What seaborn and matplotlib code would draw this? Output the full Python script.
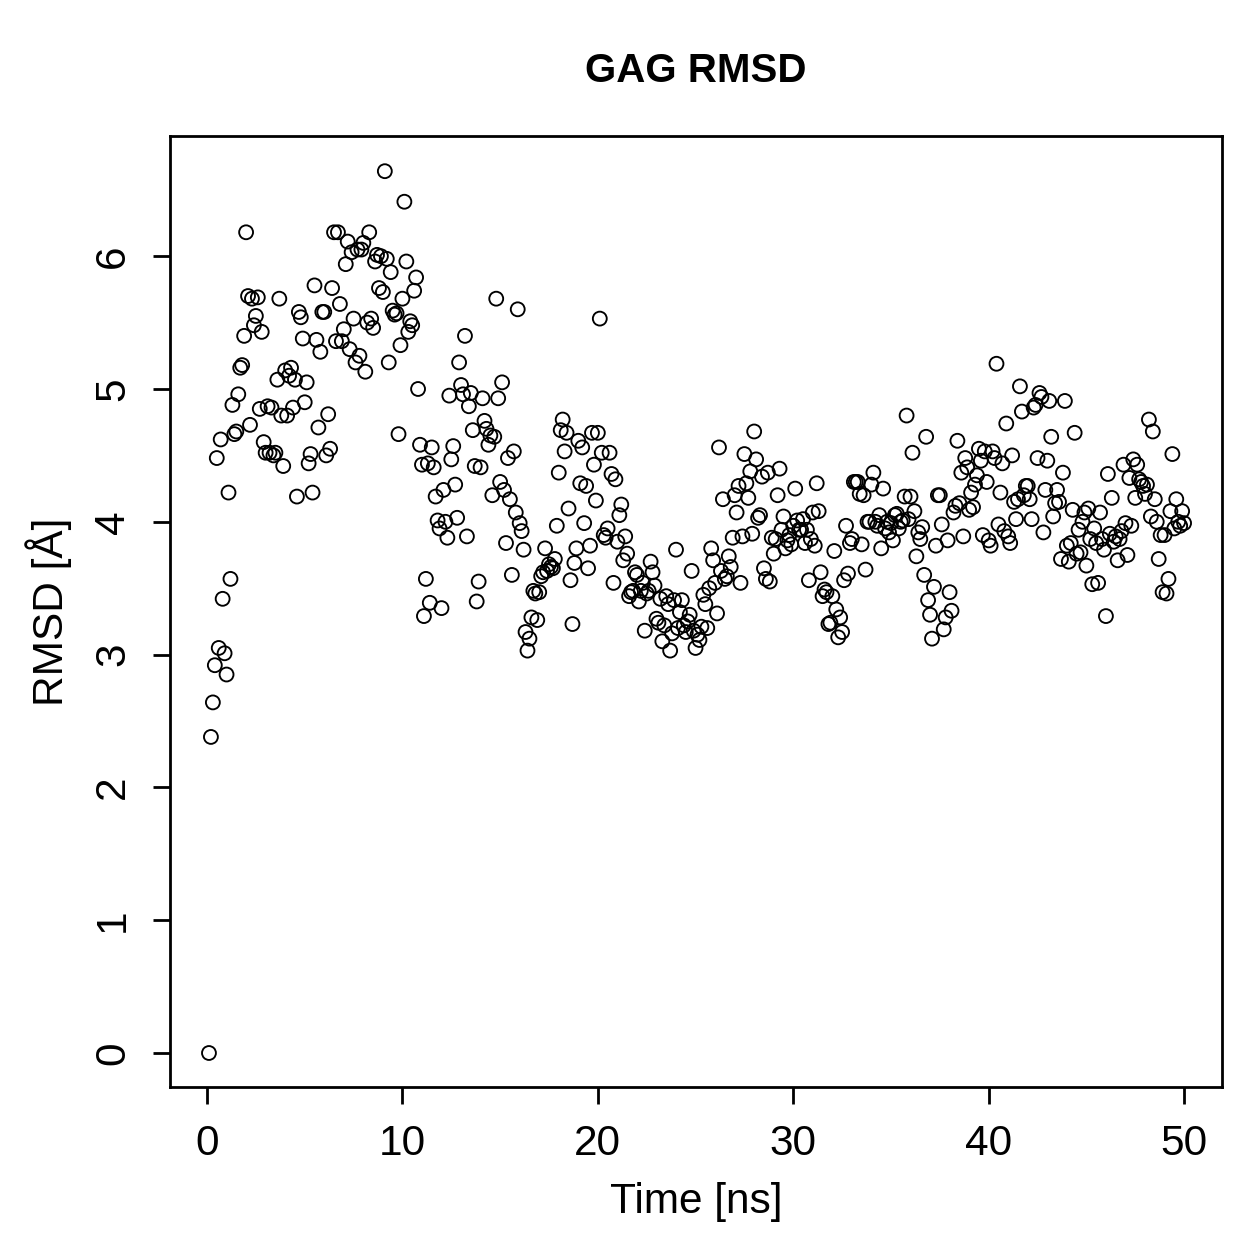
import numpy as np
import pandas as pd
import matplotlib
matplotlib.use("Agg")
import matplotlib.pyplot as plt
import seaborn as sns

title = "GAG RMSD"
x_label = "Time [ns]"
y_label = "RMSD [Å]"
x_ticks = [0, 10, 20, 30, 40, 50]
y_ticks = [0, 1, 2, 3, 4, 5, 6]
time_step = 0.1

rmsd = [
    0.00, 2.38, 2.64, 2.92, 4.48, 3.05, 4.62, 3.42, 3.01, 2.85,
    4.22, 3.57, 4.88, 4.66, 4.68, 4.96, 5.16, 5.18, 5.40, 6.18,
    5.70, 4.73, 5.68, 5.48, 5.55, 5.69, 4.85, 5.43, 4.60, 4.52,
    4.87, 4.52, 4.86, 4.50, 4.52, 5.07, 5.68, 4.80, 4.42, 5.14,
    4.80, 5.10, 5.16, 4.86, 5.07, 4.19, 5.58, 5.54, 5.38, 4.90,
    5.05, 4.44, 4.51, 4.22, 5.78, 5.37, 4.71, 5.28, 5.58, 5.58,
    4.50, 4.81, 4.55, 5.76, 6.18, 5.36, 6.18, 5.64, 5.36, 5.45,
    5.94, 6.11, 5.30, 6.03, 5.53, 5.20, 6.05, 5.25, 6.05, 6.10,
    5.13, 5.50, 6.18, 5.53, 5.46, 5.96, 6.01, 5.76, 6.00, 5.73,
    6.64, 5.98, 5.20, 5.88, 5.59, 5.56, 5.57, 4.66, 5.33, 5.68,
    6.41, 5.96, 5.43, 5.51, 5.48, 5.74, 5.84, 5.00, 4.58, 4.43,
    3.29, 3.57, 4.44, 3.39, 4.56, 4.41, 4.19, 4.01, 3.95, 3.35,
    4.24, 4.00, 3.88, 4.95, 4.47, 4.57, 4.28, 4.03, 5.20, 5.03,
    4.96, 5.40, 3.89, 4.87, 4.97, 4.69, 4.42, 3.40, 3.55, 4.41,
    4.93, 4.76, 4.70, 4.58, 4.65, 4.20, 4.64, 5.68, 4.93, 4.30,
    5.05, 4.24, 3.84, 4.48, 4.17, 3.60, 4.53, 4.07, 5.60, 3.99,
    3.93, 3.79, 3.17, 3.03, 3.12, 3.28, 3.48, 3.46, 3.26, 3.47,
    3.59, 3.62, 3.80, 3.63, 3.68, 3.66, 3.65, 3.72, 3.97, 4.37,
    4.69, 4.77, 4.53, 4.67, 4.10, 3.56, 3.23, 3.69, 3.80, 4.61,
    4.29, 4.56, 3.99, 4.27, 3.65, 3.82, 4.67, 4.43, 4.16, 4.67,
    5.53, 4.52, 3.90, 3.88, 3.95, 4.52, 4.36, 3.54, 4.32, 3.85,
    4.05, 4.13, 3.71, 3.89, 3.76, 3.44, 3.47, 3.48, 3.62, 3.60,
    3.40, 3.48, 3.54, 3.18, 3.46, 3.48, 3.70, 3.62, 3.52, 3.27,
    3.24, 3.42, 3.10, 3.22, 3.44, 3.38, 3.03, 3.16, 3.41, 3.79,
    3.20, 3.32, 3.41, 3.22, 3.17, 3.25, 3.30, 3.63, 3.18, 3.05,
    3.15, 3.11, 3.21, 3.45, 3.38, 3.20, 3.50, 3.80, 3.71, 3.54,
    3.31, 4.56, 3.63, 4.17, 3.57, 3.59, 3.74, 3.66, 3.88, 4.20,
    4.07, 4.27, 3.54, 3.89, 4.51, 4.29, 4.18, 4.38, 3.91, 4.68,
    4.47, 4.03, 4.05, 4.34, 3.65, 3.57, 4.37, 3.55, 3.88, 3.76,
    3.87, 4.20, 4.40, 3.94, 4.04, 3.80, 3.86, 3.90, 3.83, 3.97,
    4.25, 4.01, 3.94, 3.94, 4.02, 3.84, 3.94, 3.56, 3.87, 4.07,
    3.82, 4.29, 4.08, 3.62, 3.44, 3.49, 3.47, 3.23, 3.24, 3.44,
    3.78, 3.34, 3.13, 3.28, 3.17, 3.56, 3.97, 3.61, 3.84, 3.87,
    4.30, 4.30, 4.30, 4.21, 3.83, 4.20, 3.64, 4.00, 4.00, 4.28,
    4.37, 4.00, 3.97, 4.05, 3.80, 4.25, 3.95, 4.00, 3.92, 3.99,
    3.86, 4.05, 4.06, 3.95, 4.00, 4.01, 4.19, 4.80, 4.02, 4.19,
    4.52, 4.08, 3.74, 3.92, 3.87, 3.96, 3.60, 4.64, 3.41, 3.30,
    3.12, 3.51, 3.82, 4.20, 4.20, 3.98, 3.19, 3.28, 3.86, 3.47,
    3.33, 4.07, 4.12, 4.61, 4.14, 4.37, 3.89, 4.48, 4.41, 4.09,
    4.22, 4.11, 4.28, 4.35, 4.55, 4.46, 3.90, 4.53, 4.30, 3.86,
    3.82, 4.53, 4.48, 5.19, 3.98, 4.22, 4.44, 3.93, 4.74, 3.89,
    3.84, 4.50, 4.15, 4.02, 4.17, 5.02, 4.83, 4.20, 4.27, 4.27,
    4.17, 4.02, 4.86, 4.88, 4.48, 4.97, 4.94, 3.92, 4.24, 4.46,
    4.91, 4.64, 4.04, 4.14, 4.24, 4.15, 3.72, 4.37, 4.91, 3.82,
    3.70, 3.84, 4.09, 4.67, 3.76, 3.94, 3.77, 4.00, 4.07, 3.67,
    4.10, 3.87, 3.53, 3.95, 3.84, 3.54, 4.07, 3.87, 3.79, 3.29,
    4.36, 3.91, 4.18, 3.85, 3.89, 3.71, 3.87, 3.93, 4.43, 3.99,
    3.75, 4.33, 3.97, 4.47, 4.18, 4.43, 4.32, 4.30, 4.27, 4.21,
    4.28, 4.77, 4.04, 4.68, 4.17, 4.00, 3.72, 3.90, 3.47, 3.90,
    3.46, 3.57, 4.08, 4.51, 3.95, 4.17, 4.00, 3.97, 4.08, 3.99,
]

time_ns = np.round(time_step * np.arange(1, len(rmsd) + 1), 1)
df = pd.DataFrame({"time": time_ns, "rmsd": rmsd})

sns.set_theme(style="ticks")
plt.rcParams["font.family"] = ["Liberation Sans", "DejaVu Sans"]
plt.rcParams["text.color"] = "black"
plt.rcParams["axes.labelcolor"] = "black"
plt.rcParams["axes.titlecolor"] = "black"
plt.rcParams["axes.linewidth"] = 2.0
plt.rcParams["xtick.major.width"] = 2.0
plt.rcParams["ytick.major.width"] = 2.0
plt.rcParams["xtick.major.size"] = 12.5
plt.rcParams["ytick.major.size"] = 12.5
plt.rcParams["xtick.color"] = "black"
plt.rcParams["ytick.color"] = "black"
plt.rcParams["xtick.labelcolor"] = "black"
plt.rcParams["ytick.labelcolor"] = "black"
plt.rcParams["axes.edgecolor"] = "black"

W = H = 1259
fig = plt.figure(figsize=(W / 100, H / 100), dpi=100)
ax = fig.add_axes([170 / W, 1 - 1087 / H, (1222 - 170) / W, (1087 - 136) / H])

sns.scatterplot(data=df, x="time", y="rmsd", ax=ax, marker="o", s=100,
                facecolor="none", edgecolor="black", linewidth=1.35, legend=False)
for c in ax.collections:
    c.set_facecolor("none")
    c.set_edgecolor("black")

ax.set_xlim(-1.894, 51.94)
ax.set_ylim(-0.256, 6.905)
ax.set_xticks(x_ticks)
ax.set_yticks(y_ticks)
ax.set_xticklabels([str(v) for v in x_ticks], fontsize=30.5, color="black")
ax.set_yticklabels([str(v) for v in y_ticks], fontsize=30.5, rotation=90,
                   va="center", color="black")
ax.tick_params(axis="x", pad=14)
ax.tick_params(axis="y", pad=14)
for s in ax.spines.values():
    s.set_visible(True)
    s.set_color("black")
    s.set_linewidth(2.0)

ax.set_xlabel(x_label, fontsize=30.5, color="black")
ax.set_ylabel(y_label, fontsize=30.5, color="black")
ax.xaxis.set_label_coords(0.5, -0.100)
ax.yaxis.set_label_coords(-0.093, 0.5)
ax.set_title(title, fontsize=29, fontweight="bold", pad=39, color="black")

fig.savefig("out.png", dpi=100)
